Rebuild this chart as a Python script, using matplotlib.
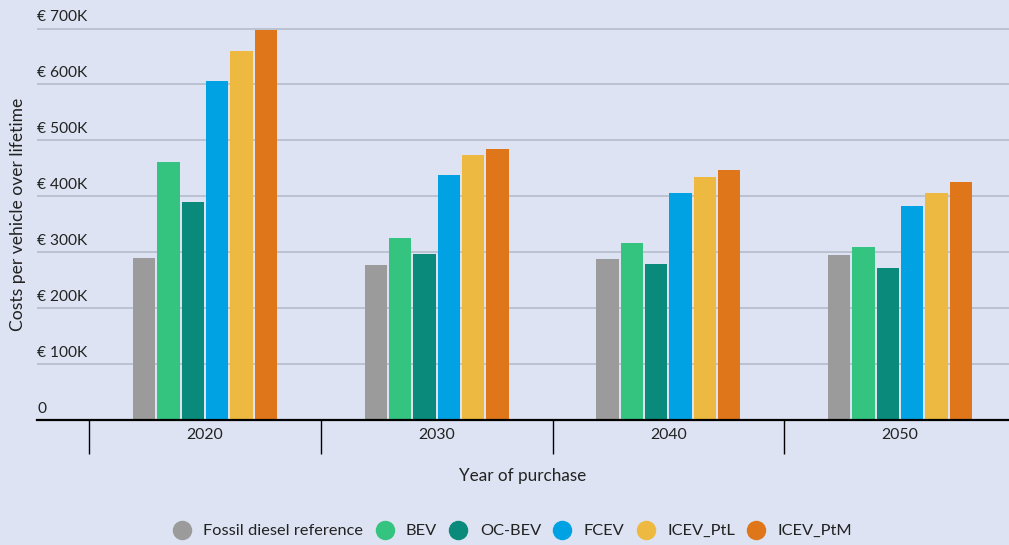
import matplotlib
matplotlib.use("Agg")
import matplotlib.pyplot as plt
from matplotlib.lines import Line2D
from matplotlib.transforms import blended_transform_factory
import numpy as np

years = ["2020", "2030", "2040", "2050"]
series = ["Fossil diesel reference", "BEV", "OC-BEV", "FCEV", "ICEV_PtL", "ICEV_PtM"]
fossil = [290, 277, 288, 295]
bev = [462, 326, 317, 310]
ocbev = [390, 297, 279, 272]
fcev = [606, 438, 406, 383]
icev_ptl = [660, 474, 435, 406]
icev_ptm = [698, 485, 447, 426]
values = [fossil, bev, ocbev, fcev, icev_ptl, icev_ptm]
colors = ["#9b9b9b", "#35c47f", "#0a8a7a", "#00a2e3", "#eeb940", "#e0761a"]
yticks = [0, 100, 200, 300, 400, 500, 600, 700]
ytick_labels = ["0", "€ 100K", "€ 200K", "€ 300K", "€ 400K", "€ 500K", "€ 600K", "€ 700K"]

bg = "#dde3f2"
plt.rcParams["font.family"] = ["Lato", "DejaVu Sans"]
fig = plt.figure(figsize=(10.09, 5.45), dpi=100, facecolor=bg)
ax = fig.add_axes([37/1009, 125/545, 1 - 37/1009, 420/545])
ax.set_facecolor(bg)

x = np.arange(len(years))
step = 0.105
width = 0.096
for i, (vals, c) in enumerate(zip(values, colors)):
    ax.bar(x + (i - 2.5) * step, vals, width=width, color=c, zorder=3)

ax.set_xlim(-0.725, 3.47)
ax.set_ylim(0, 751)

# gridlines
for t in yticks[1:]:
    ax.axhline(t, color="#b8bfce", lw=1.3, zorder=1)

tr = blended_transform_factory(ax.transAxes, ax.transData)
for t, lab in zip(yticks, ytick_labels):
    ax.text(0.0, t + 8, lab, transform=tr, ha="left", va="bottom",
            fontsize=11.2, color="#222222")
ax.set_yticks([])

for s in ["left", "right", "top"]:
    ax.spines[s].set_visible(False)
ax.spines["bottom"].set_color("black")
ax.spines["bottom"].set_linewidth(1.6)
ax.spines["bottom"].set_zorder(4)

ax.set_xticks(x)
ax.set_xticklabels(years, fontsize=11.4, color="#222222")
ax.tick_params(axis="x", which="major", length=0, pad=6)
ax.set_xticks(x[:] - 0.5, minor=True)
ax.tick_params(axis="x", which="minor", length=24.5, width=1.0, color="black")

ax.set_xlabel("Year of purchase", fontsize=12.3, color="#222222", labelpad=7)
fig.text(18/1009, 1 - 214/545, "Costs per vehicle over lifetime", rotation=90,
         ha="center", va="center", fontsize=12.6, color="#222222")

handles = [Line2D([0], [0], marker="o", linestyle="none", markersize=13,
                  markerfacecolor=c, markeredgecolor=c) for c in colors]
fig.legend(handles, series, loc="center", bbox_to_anchor=(0.508, 14/545), ncol=6,
           frameon=False, fontsize=11.8, handlelength=1.1, handletextpad=0.75,
           columnspacing=0.75, labelcolor="#222222")

fig.savefig("out.png", dpi=100, facecolor=bg)
